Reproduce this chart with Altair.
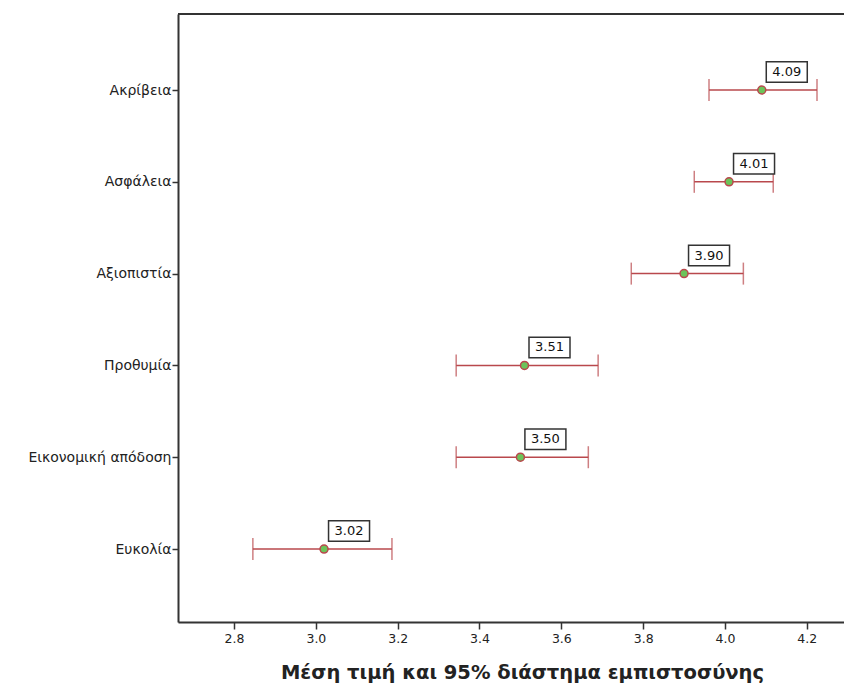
import json
import altair as alt
import pandas as pd

categories = ["Ακρίβεια", "Ασφάλεια", "Αξιοπιστία", "Προθυμία", "Εικονομική απόδοση", "Ευκολία"]
means = [4.09, 4.01, 3.90, 3.51, 3.50, 3.02]
lows = [3.961, 3.925, 3.771, 3.343, 3.343, 2.846]
highs = [4.225, 4.118, 4.045, 3.690, 3.666, 3.186]
labels = ["4.09", "4.01", "3.90", "3.51", "3.50", "3.02"]
x_ticks = [2.8, 3.0, 3.2, 3.4, 3.6, 3.8, 4.0, 4.2]

df = pd.DataFrame({"idx": list(range(len(categories))), "cat": categories, "mean": means,
                   "low": lows, "high": highs, "label": labels})

FONT = "DejaVu Sans"
RED = "#b9484d"

xscale = alt.Scale(domain=[2.663, 4.291], nice=False, zero=False)
yscale = alt.Scale(domain=[-0.828, 5.795], nice=False, zero=False, reverse=True)

x_axis = alt.Axis(values=x_ticks, format=".1f", title="Μέση τιμή και 95% διάστημα εμπιστοσύνης",
                  grid=False, domainColor="#333333", domainWidth=2, tickColor="#333333",
                  tickSize=7, tickWidth=1.5, labelFont=FONT, labelFontSize=12.5, labelColor="#222222",
                  labelPadding=3, titleFont=FONT, titleFontSize=19.5, titleFontWeight="bold",
                  titleColor="#222222", titlePadding=19, titleX=344)
y_axis = alt.Axis(title=None, grid=False, domainColor="#333333", domainWidth=2, tickColor="#333333",
                  values=list(range(len(categories))),
                  labelExpr=json.dumps(categories, ensure_ascii=False) + "[datum.value]",
                  tickSize=6, tickWidth=1.5, labelFont=FONT, labelFontSize=14, labelColor="#222222",
                  labelPadding=1)

base = alt.Chart(df)
Y = alt.Y("idx:Q", scale=yscale)

rules = base.mark_rule(color=RED, strokeWidth=1.5).encode(
    x=alt.X("low:Q", scale=xscale, axis=x_axis),
    x2="high:Q",
    y=alt.Y("idx:Q", scale=yscale, axis=y_axis),
)
cap_low = base.mark_tick(color=RED, orient="vertical", size=22, thickness=1.5).encode(
    x=alt.X("low:Q", scale=xscale), y=Y)
cap_high = base.mark_tick(color=RED, orient="vertical", size=22, thickness=1.5).encode(
    x=alt.X("high:Q", scale=xscale), y=Y)
points = base.mark_point(filled=True, fill="#6cc45a", stroke=RED, strokeWidth=1.5, size=64, opacity=1).encode(
    x=alt.X("mean:Q", scale=xscale), y=Y)
boxes = base.mark_point(shape="M -1 -0.5 L 1 -0.5 L 1 0.5 L -1 0.5 Z", size=1681, filled=True,
                        fill="white", stroke="#333333", strokeWidth=1.5, opacity=1,
                        xOffset=25, yOffset=-18).encode(
    x=alt.X("mean:Q", scale=xscale), y=Y)
texts = base.mark_text(font=FONT, fontSize=13, color="#111111", dx=25, dy=-18,
                       align="center", baseline="middle").encode(
    x=alt.X("mean:Q", scale=xscale), y=Y, text="label:N")
top_line = alt.Chart(pd.DataFrame({"v": [0]})).mark_rule(color="#333333", strokeWidth=2).encode(
    y=alt.value(0), x=alt.value(0), x2=alt.value(666))

chart = alt.layer(rules, cap_low, cap_high, points, boxes, texts, top_line).properties(
    width=666, height=608,
    autosize=alt.AutoSizeParams(type="none"),
    padding={"left": 170, "top": 6, "right": 0, "bottom": 72},
).configure_view(stroke=None).configure(background="white")

chart.save("out.html", embed_options={"renderer": "svg", "actions": False})
